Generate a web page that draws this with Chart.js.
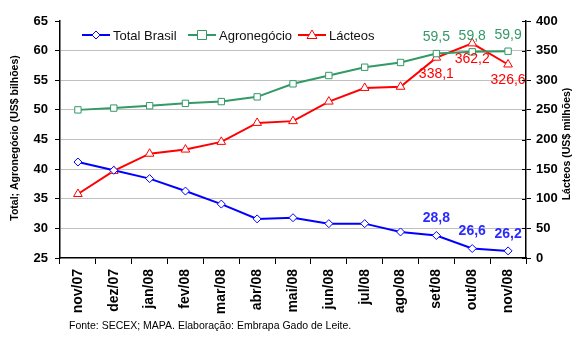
<!DOCTYPE html>
<html>
<head>
<meta charset="utf-8">
<script src="https://cdn.jsdelivr.net/npm/chart.js@4/dist/chart.umd.min.js"></script>
<style>
  body { margin: 0; background: #fff; }
  canvas { display: block; }
</style>
</head>
<body>
<canvas id="myChart" width="580" height="343"></canvas>
<script>
const months = ['nov/07', 'dez/07', 'jan/08', 'fev/08', 'mar/08', 'abr/08', 'mai/08',
                'jun/08', 'jul/08', 'ago/08', 'set/08', 'out/08', 'nov/08'];
const totalBrasil = [41.2, 39.8, 38.4, 36.3, 34.1, 31.6, 31.8, 30.8, 30.8, 29.4, 28.8, 26.6, 26.2];
const agronegocio = [50.0, 50.3, 50.7, 51.1, 51.4, 52.2, 54.4, 55.8, 57.2, 58.0, 59.5, 59.8, 59.9];
const lacteos = [108, 147, 176, 183, 196, 228, 231, 264, 287, 289, 338.1, 362.2, 326.6];
const labelled = [10, 11, 12]; // points that carry a value label
const FONT = '"Liberation Sans", Arial, sans-serif';

// value labels: comma decimal like the original
function fmt(v, dec) { return v.toFixed(dec).replace('.', ','); }

function marker(ctx, style, r, x, y) {
    ctx.beginPath();
    if (style === 'rect') {
        ctx.rect(x - r, y - r, 2 * r, 2 * r);
    } else if (style === 'rectRot') {
        ctx.moveTo(x, y - r); ctx.lineTo(x + r, y); ctx.lineTo(x, y + r); ctx.lineTo(x - r, y); ctx.closePath();
    } else {
        ctx.moveTo(x, y - r); ctx.lineTo(x + r, y + r * 0.7); ctx.lineTo(x - r, y + r * 0.7); ctx.closePath();
    }
    ctx.fill();
    ctx.stroke();
}

const extras = {
    id: 'extras',
    afterDatasetsDraw(chart) {
        const ctx = chart.ctx;
        const area = chart.chartArea;
        ctx.save();
        ctx.textAlign = 'center';
        ctx.textBaseline = 'middle';
        const conf = [
            { ds: 0, dy: -17, color: '#2b2bff', weight: 'bold' },
            { ds: 1, dy: -16, color: '#339966', weight: 'normal' },
            { ds: 2, dy: 16, color: '#ff0000', weight: 'normal' }
        ];
        conf.forEach(c => {
            const meta = chart.getDatasetMeta(c.ds);
            const vals = chart.data.datasets[c.ds].data;
            ctx.font = c.weight + ' 14px ' + FONT;
            ctx.fillStyle = c.color;
            labelled.forEach(i => {
                const p = meta.data[i];
                ctx.fillText(fmt(vals[i], 1), p.x, p.y + c.dy);
            });
        });

        // legend inside the plot
        ctx.font = '13px ' + FONT;
        ctx.textAlign = 'left';
        const items = [[82, 0], [188, 1], [298, 2]];
        items.forEach(([x, d]) => {
            const ds = chart.data.datasets[d];
            const y = 35;
            ctx.strokeStyle = ds.borderColor;
            ctx.lineWidth = 2;
            ctx.beginPath(); ctx.moveTo(x, y); ctx.lineTo(x + 28, y); ctx.stroke();
            ctx.fillStyle = '#fff';
            ctx.lineWidth = 1;
            marker(ctx, ds.pointStyle, ds.pointRadius, x + 14, y);
            ctx.fillStyle = '#111';
            ctx.fillText(ds.label, x + 31, y + 1);
        });

        // ticks on the right axis cross the axis line
        const yR = chart.scales.yR;
        ctx.strokeStyle = '#000';
        ctx.lineWidth = 1;
        yR.ticks.forEach(t => {
            const y = Math.round(yR.getPixelForValue(t.value)) + 0.5;
            ctx.beginPath(); ctx.moveTo(area.right - 4, y); ctx.lineTo(area.right, y); ctx.stroke();
        });

        // axis titles and footnote
        ctx.fillStyle = '#000';
        ctx.font = 'bold 10.5px ' + FONT;
        ctx.textAlign = 'center';
        ctx.save();
        ctx.translate(15, 138);
        ctx.rotate(-Math.PI / 2);
        ctx.fillText('Total; Agronegócio (US$ bilhões)', 0, 0);
        ctx.restore();
        ctx.save();
        ctx.translate(567, 144);
        ctx.rotate(-Math.PI / 2);
        ctx.fillText('Lácteos (US$ milhões)', 0, 0);
        ctx.restore();
        ctx.font = '10.5px ' + FONT;
        ctx.textAlign = 'left';
        ctx.fillText('Fonte: SECEX; MAPA. Elaboração: Embrapa Gado de Leite.', 69, 326);
        ctx.restore();
    }
};

const ctx = document.getElementById('myChart').getContext('2d');
const myChart = new Chart(ctx, {
    type: 'line',
    data: {
        labels: months,
        datasets: [{
            label: 'Total Brasil',
            data: totalBrasil,
            yAxisID: 'y',
            borderColor: '#0000ff',
            backgroundColor: '#ffffff',
            borderWidth: 2,
            pointStyle: 'rectRot',
            pointRadius: 4,
            pointBorderWidth: 1,
            tension: 0
        }, {
            label: 'Agronegócio',
            data: agronegocio,
            yAxisID: 'y',
            borderColor: '#339966',
            backgroundColor: '#ffffff',
            borderWidth: 2,
            pointStyle: 'rect',
            pointRadius: 4.5,
            pointBorderWidth: 1,
            tension: 0
        }, {
            label: 'Lácteos',
            data: lacteos,
            yAxisID: 'yR',
            borderColor: '#ff0000',
            backgroundColor: '#ffffff',
            borderWidth: 2,
            pointStyle: 'triangle',
            pointRadius: 5,
            pointBorderWidth: 1,
            tension: 0
        }]
    },
    options: {
        responsive: false,
        animation: false,
        layout: { padding: { top: 21, left: 0, right: 0, bottom: 0 } },
        plugins: {
            legend: { display: false },
            tooltip: { enabled: false }
        },
        scales: {
            x: {
                offset: true,
                afterFit: s => { s.height = 85; },
                border: { color: '#000', width: 1.5 },
                grid: { offset: true, drawOnChartArea: false, color: '#000', tickLength: 6 },
                ticks: {
                    minRotation: 90, maxRotation: 90, padding: 5,
                    color: '#000', font: { family: FONT, size: 14, weight: 'bold' }
                }
            },
            y: {
                position: 'left',
                min: 25, max: 65,
                afterFit: s => { s.width = 60; },
                border: { color: '#000', width: 1.5 },
                grid: {
                    color: c => (c.tick.value === 65 || c.tick.value === 25) ? 'rgba(0,0,0,0)' : '#c0c0c0',
                    tickColor: '#000', tickLength: 5
                },
                ticks: {
                    stepSize: 5, padding: 7,
                    color: '#000', font: { family: FONT, size: 13, weight: 'bold' }
                }
            },
            yR: {
                position: 'right',
                min: 0, max: 400,
                afterFit: s => { s.width = 54; },
                border: { color: '#000', width: 1.5 },
                grid: { drawOnChartArea: false, color: '#000', tickLength: 5 },
                ticks: {
                    stepSize: 50, padding: 5,
                    color: '#000', font: { family: FONT, size: 13, weight: 'bold' }
                }
            }
        }
    },
    plugins: [extras]
});
</script>
</body>
</html>
